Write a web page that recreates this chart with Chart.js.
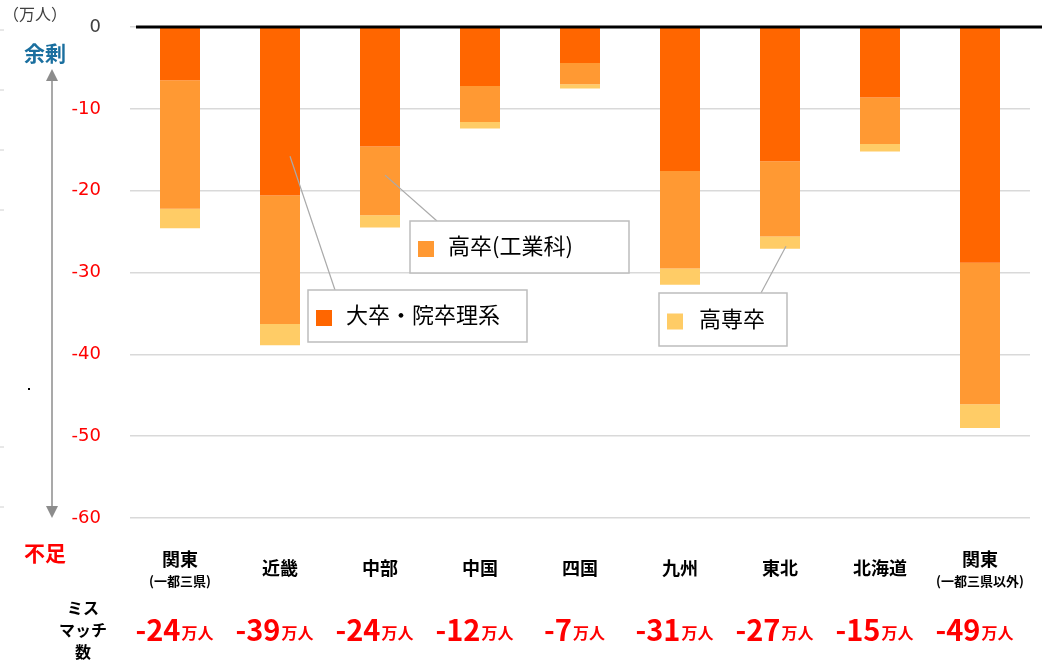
<!DOCTYPE html>
<html lang="ja">
<head>
<meta charset="utf-8">
<script src="https://cdn.jsdelivr.net/npm/chart.js@4.4.1/dist/chart.umd.min.js"></script>
<style>
  html, body { margin: 0; padding: 0; background: #fff; }
  #wrap { width: 1042px; height: 660px; position: relative; }
</style>
</head>
<body>
<div id="wrap"><canvas id="mismatchChart" width="1042" height="660"></canvas></div>
<script>
// 地域ごとの人材ミスマッチ（万人）
const regions = ['関東', '近畿', '中部', '中国', '四国', '九州', '東北', '北海道', '関東'];
const regionNotes = ['(一都三県)', '', '', '', '', '', '', '', '(一都三県以外)'];
const univScience = [-6.5, -20.6, -14.6, -7.2, -4.4, -17.6, -16.4, -8.6, -28.8];
const highSchoolTech = [-15.7, -15.7, -8.4, -4.4, -2.6, -11.9, -9.2, -5.7, -17.3];
const techCollege = [-2.4, -2.6, -1.5, -0.8, -0.5, -2.0, -1.5, -0.9, -2.9];
const mismatchTotals = [-24, -39, -24, -12, -7, -31, -27, -15, -49];
const yTicks = [0, -10, -20, -30, -40, -50, -60];

const JP = '"Noto Sans CJK JP", "Noto Sans", sans-serif';

// 軸の外側の文字・矢印・凡例の吹き出し
const decorations = {
  id: 'decorations',
  afterDatasetsDraw(chart) {
    const { ctx, chartArea, scales: { x, y } } = chart;
    ctx.save();

    // 0 の太線
    const y0 = y.getPixelForValue(0);
    ctx.strokeStyle = '#000';
    ctx.lineWidth = 3;
    ctx.beginPath();
    ctx.moveTo(chartArea.left + 6, y0);
    ctx.lineTo(chart.width, y0);
    ctx.stroke();

    // 左端の小さな目盛り
    ctx.strokeStyle = '#d0d0d0';
    ctx.lineWidth = 1;
    [30, 90, 150, 210, 447, 507].forEach(v => {
      ctx.beginPath(); ctx.moveTo(0, v); ctx.lineTo(4, v); ctx.stroke();
    });
    ctx.fillStyle = '#000';
    ctx.fillRect(28, 388, 2, 2);

    // 単位
    ctx.fillStyle = '#404040';
    ctx.font = '16px ' + JP;
    ctx.textAlign = 'left';
    ctx.textBaseline = 'middle';
    ctx.fillText('（万人）', 3, 14);

    // 余剰・不足と矢印
    ctx.font = 'bold 21px ' + JP;
    ctx.textAlign = 'center';
    ctx.fillStyle = '#1a6f9f';
    ctx.fillText('余剰', 45, 53);
    ctx.fillStyle = '#ff0000';
    ctx.fillText('不足', 45, 553);

    ctx.strokeStyle = '#8c8c8c';
    ctx.fillStyle = '#8c8c8c';
    ctx.lineWidth = 1.5;
    ctx.beginPath(); ctx.moveTo(52, 78); ctx.lineTo(52, 508); ctx.stroke();
    ctx.beginPath(); ctx.moveTo(52, 69); ctx.lineTo(46, 81); ctx.lineTo(58, 81); ctx.closePath(); ctx.fill();
    ctx.beginPath(); ctx.moveTo(52, 518); ctx.lineTo(46, 506); ctx.lineTo(58, 506); ctx.closePath(); ctx.fill();

    // 地域名
    ctx.fillStyle = '#000';
    regions.forEach((name, i) => {
      const cx = x.getPixelForValue(i);
      ctx.font = 'bold 18px ' + JP;
      if (regionNotes[i]) {
        ctx.fillText(name, cx, 559);
        ctx.font = 'bold 13px ' + JP;
        ctx.fillText(regionNotes[i], cx, 581);
      } else {
        ctx.fillText(name, cx, 568);
      }
    });

    // ミスマッチ数
    ctx.font = 'bold 16px ' + JP;
    ctx.fillText('ミス', 83, 608);
    ctx.fillText('マッチ', 83, 630);
    ctx.fillText('数', 83, 652);

    ctx.fillStyle = '#ff0000';
    mismatchTotals.forEach((v, i) => {
      const cx = x.getPixelForValue(i) - 6;
      const num = '-' + Math.abs(v);
      ctx.font = 'bold 29px ' + JP;
      const w1 = ctx.measureText(num).width;
      ctx.font = 'bold 16px ' + JP;
      const w2 = ctx.measureText('万人').width;
      const left = cx - (w1 + w2) / 2;
      ctx.textAlign = 'left';
      ctx.textBaseline = 'alphabetic';
      ctx.font = 'bold 29px ' + JP;
      ctx.fillText(num, left, 641);
      ctx.font = 'bold 16px ' + JP;
      ctx.fillText('万人', left + w1 + 1, 639);
    });

    // 凡例の吹き出し
    const callouts = [
      { label: '大卒・院卒理系', color: '#ff6600', box: [308, 290, 219, 52], from: [335, 290], to: [x.getPixelForValue(1) + 10, y.getPixelForValue(-15.8)] },
      { label: '高卒(工業科)', color: '#ff9933', box: [410, 221, 219, 52], from: [437, 221], to: [x.getPixelForValue(2) + 5, y.getPixelForValue(-18.1)] },
      { label: '高専卒', color: '#ffcc66', box: [659, 293, 128, 53], from: [761, 293], to: [x.getPixelForValue(6) + 6, y.getPixelForValue(-26.8)] }
    ];
    callouts.forEach(c => {
      const [bx, by, bw, bh] = c.box;
      ctx.strokeStyle = '#aaaaaa';
      ctx.lineWidth = 1.2;
      ctx.beginPath(); ctx.moveTo(c.from[0], c.from[1]); ctx.lineTo(c.to[0], c.to[1]); ctx.stroke();
      ctx.fillStyle = '#fff';
      ctx.fillRect(bx, by, bw, bh);
      ctx.strokeStyle = '#bdbdbd';
      ctx.lineWidth = 1.5;
      ctx.strokeRect(bx, by, bw, bh);
      ctx.fillStyle = c.color;
      ctx.fillRect(bx + 8, by + bh / 2 - 6, 16, 16);
      ctx.fillStyle = '#000';
      ctx.font = '22px ' + JP;
      ctx.textAlign = 'left';
      ctx.textBaseline = 'middle';
      ctx.fillText(c.label, bx + (c.label === '高専卒' ? 40 : 38), by + bh / 2 - 1);
    });

    ctx.restore();
  }
};

new Chart(document.getElementById('mismatchChart').getContext('2d'), {
  type: 'bar',
  data: {
    labels: regions.map((r, i) => r + regionNotes[i]),
    datasets: [
      { label: '大卒・院卒理系', data: univScience, backgroundColor: '#ff6600' },
      { label: '高卒(工業科)', data: highSchoolTech, backgroundColor: '#ff9933' },
      { label: '高専卒', data: techCollege, backgroundColor: '#ffcc66' }
    ]
  },
  options: {
    responsive: false,
    animation: false,
    layout: { padding: { top: 27, right: 12, bottom: 142, left: 0 } },
    datasets: { bar: { barPercentage: 0.4, categoryPercentage: 1, borderWidth: 0 } },
    plugins: { legend: { display: false }, tooltip: { enabled: false } },
    scales: {
      x: {
        stacked: true,
        display: false
      },
      y: {
        stacked: true,
        min: -60,
        max: 0,
        afterFit(scale) {
          scale.width = 130;
          scale.paddingTop = 0;
          scale.paddingBottom = 0;
        },
        afterBuildTicks(scale) { scale.ticks = yTicks.map(v => ({ value: v })); },
        grid: { color: '#d9d9d9', lineWidth: 1.5, drawTicks: false },
        border: { display: false },
        ticks: {
          padding: 29,
          font: { family: '"DejaVu Sans", Verdana, sans-serif', size: 18 },
          color: ctx => ctx.tick.value === 0 ? '#404040' : '#ff0000'
        }
      }
    }
  },
  plugins: [decorations]
});
</script>
</body>
</html>
